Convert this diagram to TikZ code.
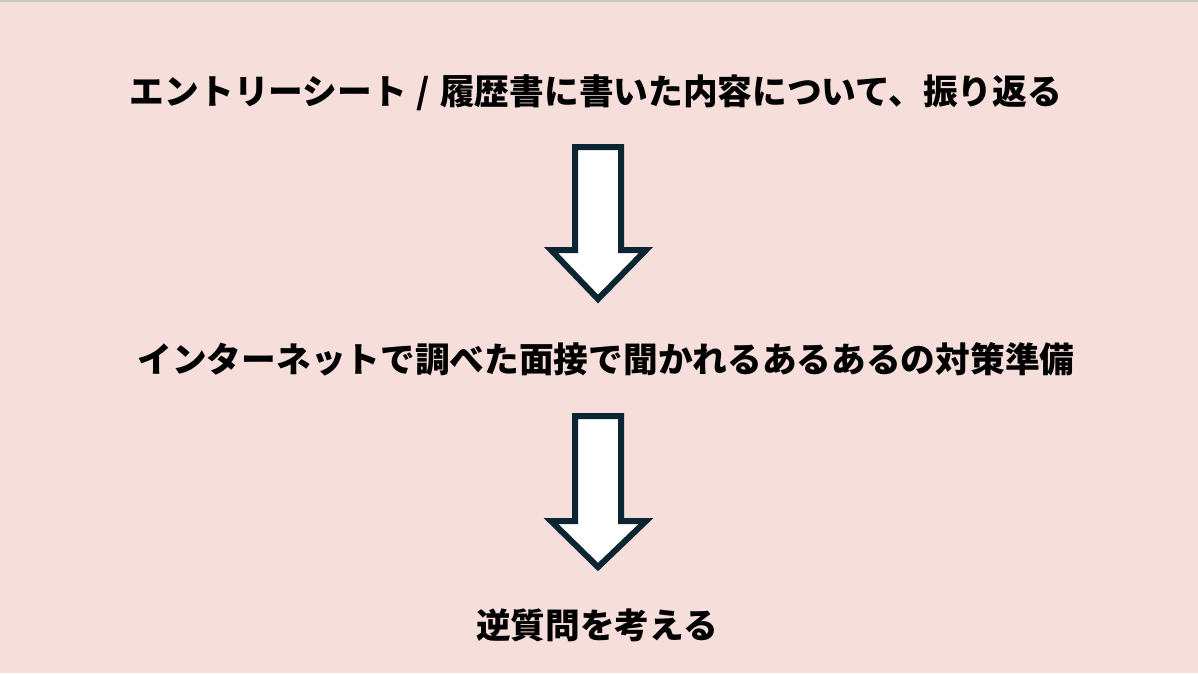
\documentclass[tikz,border=0pt]{standalone}
\usepackage{fontspec}
\newfontfamily\jpfont{Noto Sans CJK JP}
\definecolor{bgpink}{HTML}{F6DEDA}
\definecolor{arrowink}{HTML}{0B2533}
\definecolor{topline}{HTML}{C8C8C8}
\tikzset{
  steptext/.style={anchor=base, inner sep=0pt, font=\jpfont\bfseries\fontsize{34.7}{40}\selectfont, text=black},
  blockarrow/.style={draw=arrowink, fill=white, line width=6pt, line join=miter, miter limit=10}
}
\begin{document}
\begin{tikzpicture}[x=1pt,y=-1pt]
\useasboundingbox (0,0) rectangle (1198,673);
\fill[bgpink] (0,0) rectangle (1198,673);
\fill[topline] (0,0) rectangle (1198,1.5);
\node[steptext] (s1) at (596,104) {エントリーシート\hspace{10pt}/\hspace{10pt}履歴書に書いた内容について、振り返る};
\node[steptext] (s2) at (606,372) {インターネットで調べた面接で聞かれるあるあるの対策準備};
\node[steptext] (s3) at (597,638) {逆質問を考える};
\draw[blockarrow] (575,147) -- (621,147) -- (621,250) -- (646,250) -- (598,299) -- (551,250) -- (575,250) -- cycle;
\draw[blockarrow] (575,416) -- (621,416) -- (621,521) -- (646,521) -- (598,567) -- (551,521) -- (575,521) -- cycle;
\end{tikzpicture}
\end{document}
